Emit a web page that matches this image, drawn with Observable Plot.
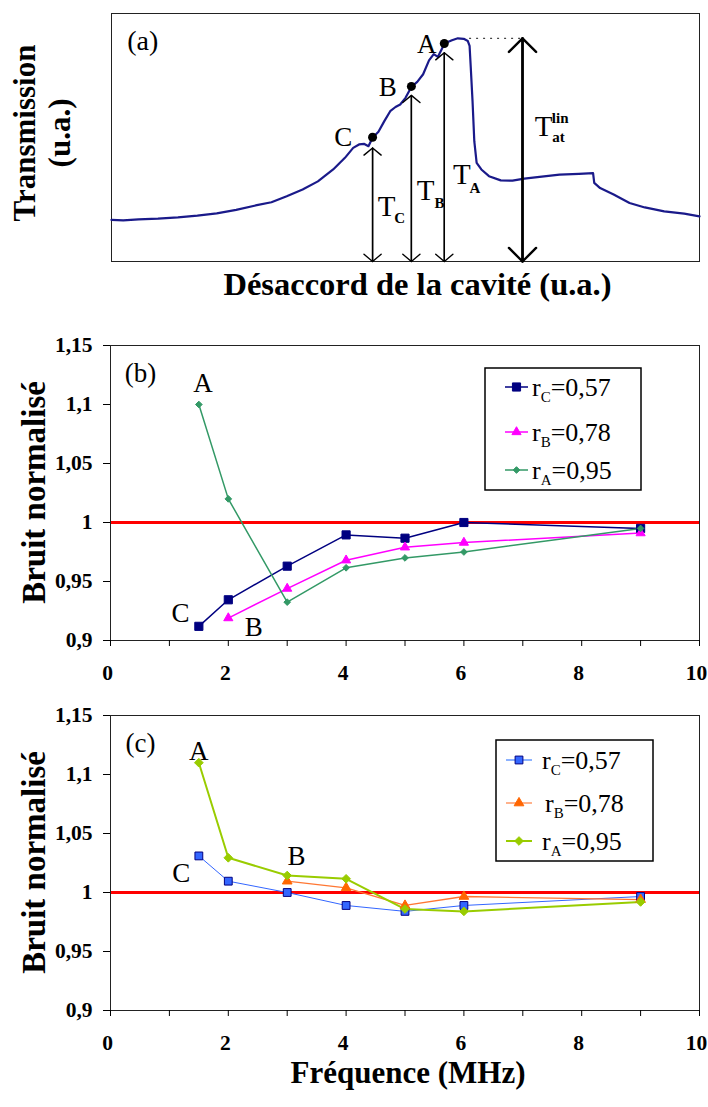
<!DOCTYPE html>
<html><head><meta charset="utf-8">
<script src="https://cdn.jsdelivr.net/npm/d3@7"></script>
<script src="https://cdn.jsdelivr.net/npm/@observablehq/plot@0.6"></script>
<style>
body{margin:0;background:#fff;}
#wrap{width:708px;height:1107px;position:relative;overflow:hidden;background:#fff;}
#wrap svg{display:block;overflow:visible;}
#wrap svg text{font-family:'Liberation Serif','Times New Roman',serif !important;}
</style></head><body><div id="wrap"></div>
<script>
// ---------- Panel (a): transmission vs cavity detuning (arbitrary units) ----------
const detuning = [0.0,2.0,4.6,7.9,11.3,14.6,17.9,21.2,24.5,27.2,29.8,32.5,35.1,37.7,39.7,41.1,42.1,43.0,43.7,44.4,45.4,46.4,47.4,48.3,49.1,50.0,51.0,52.0,53.0,54.0,54.8,55.5,56.3,57.0,57.9,58.9,59.9,60.6,60.9,61.1,61.4,61.7,62.1,62.9,64.2,66.2,68.2,70.2,72.8,76.2,79.5,81.9,82.1,83.1,85.4,88.1,90.7,94.0,97.4,100.0];
const transmission = [16.8,16.6,17.0,17.3,17.8,18.5,19.4,20.8,22.6,23.9,26.3,29.0,32.3,37.1,41.8,45.8,47.2,47.4,46.5,49.9,52.3,56.6,60.6,62.3,63.3,66.0,70.4,72.4,75.5,81.1,83.6,82.5,86.3,88.3,89.2,90.0,89.8,88.9,86.9,78.2,64.7,48.5,39.8,37.1,34.4,32.7,32.6,33.4,34.1,35.0,35.3,35.6,31.7,29.6,27.0,23.6,21.8,20.2,19.3,18.2];
const workPoints = ["A","B","C"];
const workX = [56.6, 51.0, 44.4];
const workY = [87.9, 70.6, 50.1];
const arrowTipY = [84.2, 67.0, 45.8];
const workLabelX = [53.6, 47.0, 39.4];
const workLabelY = [87.6, 70.1, 49.9];
const tMainX = [59.6, 53.4, 46.8];
const tMainY = [35.0, 28.6, 22.2];
const tSubX = [61.8, 55.8, 49.0];
const tSubY = [29.6, 23.6, 17.6];
const linX = 69.9, linY = 90.0, linStartX = 60.9;
const linLabel = {tX: 73.5, tY: 54.2, supX: 76.3, supY: 57.6, subX: 76.0, subY: 50.0};

// ---------- Panels (b) and (c): normalised noise vs frequency (MHz) ----------
const freqAll = [1.5, 2, 3, 4, 5, 6, 9];
const freqB_panelB = [2, 3, 4, 5, 6, 9];
const freqB_panelC = [3, 4, 5, 6, 9];
// panel (b)
const b_rC = [0.912, 0.9345, 0.963, 0.9895, 0.9867, 1.000, 0.995];
const b_rB = [0.919, 0.944, 0.968, 0.979, 0.983, 0.991];
const b_rA = [1.100, 1.020, 0.9325, 0.9616, 0.970, 0.975, 0.995];
// panel (c)
const c_rC = [1.031, 1.0096, 1.000, 0.989, 0.984, 0.989, 0.9966];
const c_rB = [1.0096, 1.004, 0.989, 0.9966, 0.994];
const c_rA = [1.110, 1.0294, 1.0144, 1.0116, 0.986, 0.984, 0.992];

const seriesNames = ["C", "B", "A"];
const seriesValues = ["0,57", "0,78", "0,95"];
const yTicks = [0.9, 0.95, 1, 1.05, 1.1, 1.15];
const xTicks = [0, 2, 4, 6, 8, 10];
const xMinorTicks = [0,1,2,3,4,5,6,7,8,9,10];
const b_labelText = ["(b)", "A", "C", "B"];
const b_labelX = [0.51, 1.57, 1.19, 2.43];
const b_labelY = [1.126, 1.1175, 0.923, 0.911];
const c_labelText = ["(c)", "A", "C", "B"];
const c_labelX = [0.51, 1.5, 1.2, 3.16];
const c_labelY = [1.126, 1.12, 1.016, 1.0305];

const FF = "'Liberation Serif','Times New Roman',serif";
const fmtComma = d => String(d).replace(".", ",");
const wrap = document.getElementById("wrap");

// rotated axis title appended in pixel space of the svg
function addRotatedTitle(chart, lines, cx, cy, size, lineGap) {
  const t = d3.select(chart).append("text")
    .attr("transform", `translate(${cx},${cy}) rotate(-90)`)
    .attr("text-anchor", "middle").attr("font-weight", "bold")
    .attr("font-size", size).attr("fill", "black").style("font-family", FF);
  const n = lines.length;
  lines.forEach((s, i) => {
    t.append("tspan").attr("x", 0).attr("y", (i - (n - 1) / 2) * lineGap).attr("dy", "0.35em").text(s);
  });
}

// ---------- Build panel (a) ----------
const curve = detuning.map((x, i) => ({x, t: transmission[i]}));
const pts = workPoints.map((n, i) => ({n, x: workX[i], y: workY[i], tip: arrowTipY[i],
  lx: workLabelX[i], ly: workLabelY[i], tx: tMainX[i], ty: tMainY[i], sx: tSubX[i], sy: tSubY[i]}));

const chartA = Plot.plot({
  width: 708, height: 310, marginTop: 13, marginBottom: 49, marginLeft: 111, marginRight: 9,
  style: {fontFamily: FF, background: "white", color: "black"},
  x: {domain: [0, 100], axis: null},
  y: {domain: [0, 100], axis: null},
  marks: [
    Plot.frame({stroke: "#222", strokeWidth: 1}),
    Plot.ruleY([linY], {x1: linStartX, x2: linX, stroke: "#444", strokeWidth: 1.2, strokeDasharray: "2,5"}),
    Plot.line(curve, {x: "x", y: "t", stroke: "#1a1a8a", strokeWidth: 2.2}),
    Plot.arrow(pts, {x1: "x", x2: "x", y1: 0, y2: "tip", stroke: "black", strokeWidth: 1.4, headAngle: 100, headLength: 12}),
    Plot.arrow(pts, {x1: "x", x2: "x", y1: "tip", y2: 0, stroke: "black", strokeWidth: 1.4, headAngle: 100, headLength: 12}),
    Plot.arrow([linX], {x1: d => d, x2: d => d, y1: 0, y2: linY, stroke: "black", strokeWidth: 2.4, headAngle: 90, headLength: 12}),
    Plot.arrow([linX], {x1: d => d, x2: d => d, y1: linY, y2: 0, stroke: "black", strokeWidth: 2.4, headAngle: 90, headLength: 12}),
    Plot.dot(pts, {x: "x", y: "y", r: 4.5, fill: "black"}),
    Plot.text(pts, {x: "lx", y: "ly", text: "n", fontSize: 27, fill: "black"}),
    Plot.text(pts, {x: "tx", y: "ty", text: () => "T", fontSize: 29, fill: "black"}),
    Plot.text(pts, {x: "sx", y: "sy", text: "n", fontSize: 15, fontWeight: "bold", fill: "black"}),
    Plot.text([linLabel], {x: "tX", y: "tY", text: () => "T", fontSize: 29, fill: "black"}),
    Plot.text([linLabel], {x: "supX", y: "supY", text: () => "lin", fontSize: 15, fontWeight: "bold", fill: "black"}),
    Plot.text([linLabel], {x: "subX", y: "subY", text: () => "at", fontSize: 15, fontWeight: "bold", fill: "black"}),
    Plot.text(["(a)"], {x: () => 5.3, y: () => 89, text: d => d, fontSize: 28, fill: "black"}),
    Plot.text(["Désaccord de la cavité (u.a.)"], {frameAnchor: "bottom", dx: 12, dy: 33, text: d => d, fontSize: 32.5, fontWeight: "bold", fill: "black"})
  ]
});
addRotatedTitle(chartA, ["Transmission", "(u.a.)"], 42, 133, 31, 35);
wrap.appendChild(chartA);

// ---------- Builder for panels (b) and (c) ----------
function noisePanel(cfg) {
  const rowsC = freqAll.map((f, i) => ({f, v: cfg.rC[i]}));
  const rowsB = cfg.freqB.map((f, i) => ({f, v: cfg.rB[i]}));
  const rowsA = freqAll.map((f, i) => ({f, v: cfg.rA[i]}));
  const labels = cfg.labelText.map((t, i) => ({t, x: cfg.labelX[i], y: cfg.labelY[i]}));
  const st = cfg.styles;
  const chart = Plot.plot({
    width: 708, height: cfg.height, marginTop: cfg.marginTop, marginBottom: cfg.marginBottom, marginLeft: 110, marginRight: 9,
    style: {fontFamily: FF, background: "white", color: "black"},
    x: {domain: [0, 10]},
    y: {domain: [0.9, 1.15]},
    marks: [
      Plot.ruleY([1], {stroke: "#ff0000", strokeWidth: 3}),
      Plot.line(rowsC, {x: "f", y: "v", stroke: st[0].line, strokeWidth: st[0].lw}),
      Plot.line(rowsB, {x: "f", y: "v", stroke: st[1].line, strokeWidth: st[1].lw}),
      Plot.line(rowsA, {x: "f", y: "v", stroke: st[2].line, strokeWidth: st[2].lw}),
      Plot.dot(rowsC, {x: "f", y: "v", symbol: "square", r: st[0].r, fill: st[0].fill, stroke: st[0].stroke, strokeWidth: 1}),
      Plot.dot(rowsB, {x: "f", y: "v", symbol: "triangle", r: st[1].r, fill: st[1].fill, stroke: st[1].stroke, strokeWidth: 1}),
      Plot.dot(rowsA, {x: "f", y: "v", symbol: "diamond2", r: st[2].r, fill: st[2].fill, stroke: st[2].stroke, strokeWidth: 1}),
      Plot.frame({stroke: "#222", strokeWidth: 1}),
      Plot.axisY({ticks: yTicks, tickFormat: fmtComma, tickSize: 7, tickPadding: 11, fontSize: 21.5, fontWeight: "bold", label: null}),
      Plot.axisX({ticks: xMinorTicks, tickFormat: () => "", tickSize: 6, label: null}),
      Plot.axisX({ticks: xTicks, tickSize: 0, tickPadding: 24, dx: -3, fontSize: 21.5, fontWeight: "bold", label: null}),
      Plot.text(labels, {x: "x", y: "y", text: "t", fontSize: 27, fill: "black"}),
      ...(cfg.xLabel ? [Plot.text([cfg.xLabel], {frameAnchor: "bottom", dx: 3, dy: 72, text: d => d, fontSize: 31, fontWeight: "bold", fill: "black"})] : [])
    ]
  });
  const midY = cfg.marginTop + (cfg.height - cfg.marginTop - cfg.marginBottom) / 2;
  addRotatedTitle(chart, ["Bruit normalisé"], 33, midY, 33, 0);
  // legend
  const L = cfg.legend;
  const svg = d3.select(chart);
  const g = svg.append("g").attr("transform", `translate(${L.left},${L.top})`);
  g.append("rect").attr("width", L.width).attr("height", L.height)
    .attr("fill", "white").attr("stroke", "black").attr("stroke-width", 1.5);
  const symTypes = [d3.symbolSquare, d3.symbolTriangle, d3.symbolDiamond2];
  seriesNames.forEach((name, i) => {
    const s = st[i];
    const row = g.append("g").attr("transform", `translate(0,${L.rows[i]})`);
    row.append("line").attr("x1", L.lineX1).attr("x2", L.lineX2)
      .attr("stroke", s.legendLine || s.line).attr("stroke-width", Math.max(s.lw, 1.5));
    row.append("path").attr("transform", `translate(${(L.lineX1 + L.lineX2) / 2},0)`)
      .attr("d", d3.symbol(symTypes[i], Math.PI * s.r * s.r)())
      .attr("fill", s.fill).attr("stroke", s.stroke).attr("stroke-width", 1);
    const t = row.append("text").attr("x", L.textX + (L.textShift ? L.textShift[i] : 0)).attr("y", 9)
      .attr("text-anchor", "start").attr("font-weight", "normal")
      .style("font-family", FF).attr("font-size", 26).attr("fill", "black");
    t.append("tspan").text("r");
    t.append("tspan").attr("font-size", 15).attr("dy", 6).text(name);
    t.append("tspan").attr("dy", -6).text("=" + seriesValues[i]);
  });
  return chart;
}

const chartB = noisePanel({
  height: 380, marginTop: 35, marginBottom: 50,
  rC: b_rC, rB: b_rB, rA: b_rA, freqB: freqB_panelB,
  labelText: b_labelText, labelX: b_labelX, labelY: b_labelY,
  styles: [
    {line: "#000080", lw: 1.5, fill: "#000080", stroke: "#000080", r: 4.6},
    {line: "#ff00ff", lw: 1.5, fill: "#ff00ff", stroke: "#ff00ff", r: 3.4},
    {line: "#339966", lw: 1.5, fill: "#339966", stroke: "#339966", r: 3.0}
  ],
  legend: {left: 485, top: 58, width: 156, height: 122, rows: [19, 64, 102], lineX1: 20, lineX2: 43, textX: 47}
});
wrap.appendChild(chartB);

const chartC = noisePanel({
  height: 417, marginTop: 25, marginBottom: 97,
  rC: c_rC, rB: c_rB, rA: c_rA, freqB: freqB_panelC,
  labelText: c_labelText, labelX: c_labelX, labelY: c_labelY,
  xLabel: "Fréquence (MHz)",
  styles: [
    {line: "#3366ff", lw: 1, fill: "#3366ff", stroke: "#000080", r: 4.4, legendLine: "#6699ff"},
    {line: "#ff7733", lw: 1.3, fill: "#ff6600", stroke: "#ff6600", r: 3.6, legendLine: "#ff9966"},
    {line: "#99cc00", lw: 2, fill: "#99cc00", stroke: "#99cc00", r: 3.9}
  ],
  legend: {left: 496, top: 50, width: 157, height: 121, rows: [20, 63, 101], lineX1: 10, lineX2: 36, textX: 46, textShift: [0, 3, 0]}
});
wrap.appendChild(chartC);
</script></body></html>
